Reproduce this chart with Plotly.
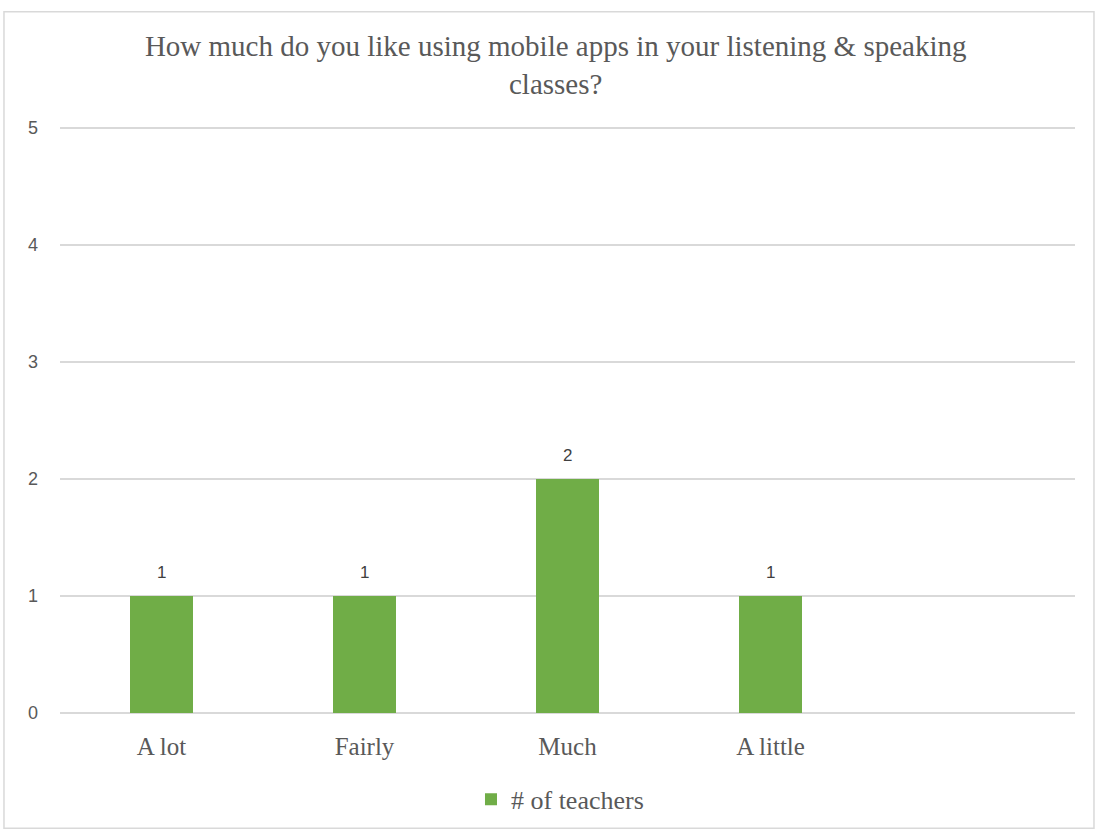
import plotly.graph_objects as go

categories = ["A lot", "Fairly", "Much", "A little", " "]
teachers = [1, 1, 2, 1, None]
y_ticks = [0, 1, 2, 3, 4, 5]
series_name = "# of teachers"

SERIF = "Liberation Serif"
SANS = "Liberation Sans"

fig = go.Figure()
fig.add_trace(go.Bar(
    x=categories, y=teachers,
    name=f"<span style='font-family:{SERIF}'>{series_name}</span>",
    marker=dict(color="#70AD47", line=dict(width=0)),
    width=0.31,
))

for c, v in zip(categories, teachers):
    if v is not None:
        fig.add_annotation(x=c, y=v, text=str(v), showarrow=False, yanchor="bottom",
                           yshift=12, font=dict(family=SANS, size=17, color="#404040"))

fig.update_layout(
    width=1096, height=835,
    font=dict(family=SERIF, color="#595959"),
    paper_bgcolor="white", plot_bgcolor="white",
    margin=dict(l=60, r=21, t=122, b=118),
    title=dict(text="How much do you like using mobile apps in your listening &amp; speaking<br>classes?",
               x=0.507, xanchor="center", yref="container", y=0.933, yanchor="top",
               font=dict(family=SERIF, size=29, color="#595959")),
    showlegend=True,
    legend=dict(orientation="h", x=0.4926, xanchor="center", y=-0.146, yanchor="middle",
                bgcolor="rgba(0,0,0,0)",
                font=dict(family=SERIF, size=26, color="#595959"),
                itemwidth=30),
    bargap=0,
    xaxis=dict(type="category", range=[-0.5, 4.5], showgrid=False, showline=False, ticks="",
               tickfont=dict(family=SERIF, size=25, color="#595959"),
               ticklabelstandoff=16, fixedrange=True),
    yaxis=dict(range=[0, 5.05], tickvals=y_ticks, showgrid=True, gridcolor="#D9D9D9", gridwidth=1.5,
               zeroline=True, zerolinecolor="#D9D9D9", zerolinewidth=1.5, showline=False, ticks="",
               tickfont=dict(family=SANS, size=18, color="#595959"),
               ticklabelstandoff=21, fixedrange=True),
)
fig.add_shape(type="rect", xref="paper", yref="paper", x0=-0.0552, x1=1.0187, y0=-0.195, y1=1.1867,
              line=dict(color="#D9D9D9", width=1.5), fillcolor="rgba(0,0,0,0)", layer="below")

fig.write_html("out.html", config={"displayModeBar": False},
               post_script="document.body.style.margin='0px';")
